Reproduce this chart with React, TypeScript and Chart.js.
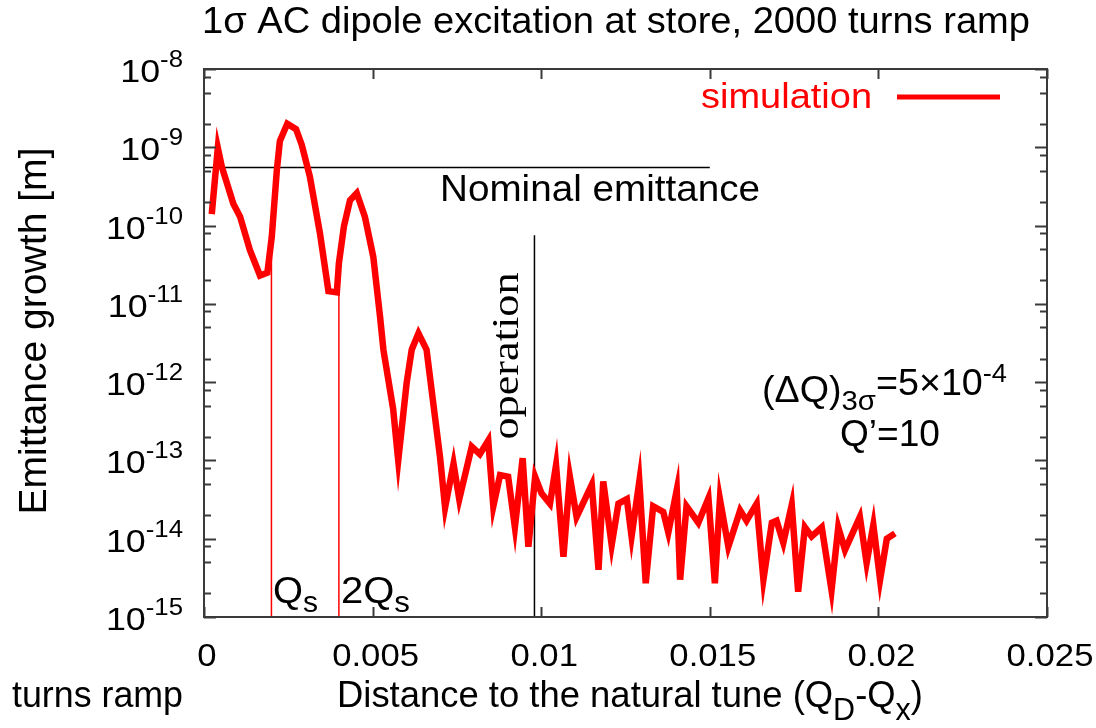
import React, { useEffect, useRef } from 'react';
import { Chart, registerables } from 'chart.js';

Chart.register(...registerables);

// ---- Data ----
const tuneDistance = [
  0.00023, 0.00041, 0.00053, 0.00087, 0.00107, 0.00136, 0.00166, 0.00188, 0.00201, 0.00216,
  0.00225, 0.00247, 0.00273, 0.0029, 0.00314, 0.00344, 0.00369, 0.00394, 0.004, 0.00415,
  0.00433, 0.00453, 0.00477, 0.00502, 0.00522, 0.00532, 0.00561, 0.00576, 0.00601, 0.00616,
  0.00636, 0.0066, 0.00685, 0.007, 0.00715, 0.0074, 0.00757, 0.00794, 0.00818, 0.00843,
  0.00858, 0.00878, 0.00902, 0.00922, 0.00945, 0.00962, 0.00982, 0.01001, 0.01026, 0.01044,
  0.01066, 0.01085, 0.01105, 0.0115, 0.0117, 0.01184, 0.01209, 0.01229, 0.01254, 0.01268,
  0.01291, 0.0131, 0.01332, 0.01362, 0.01377, 0.01402, 0.01412, 0.01431, 0.01466, 0.01496,
  0.01515, 0.0153, 0.01555, 0.0159, 0.01609, 0.01639, 0.01659, 0.01684, 0.01698, 0.01718,
  0.01743, 0.01762, 0.01782, 0.01802, 0.01832, 0.01861, 0.01881, 0.01901, 0.01945, 0.01965,
  0.01985, 0.02005, 0.02025, 0.02049,
];
const emittanceGrowth = [
  1.4e-10, 9.8e-10, 5.6e-10, 1.9e-10, 1.3e-10, 4.9e-11, 2.3e-11, 2.5e-11, 7.2e-11, 5.1e-10,
  1.2e-9, 2.0e-9, 1.7e-9, 1.07e-9, 4.2e-10, 7.9e-11, 1.45e-11, 1.4e-11, 3.3e-11, 9.8e-11,
  2.1e-10, 2.6e-10, 1.3e-10, 4.0e-11, 6.9e-12, 2.6e-12, 4.5e-13, 1.0e-13, 9.8e-13, 2.6e-12,
  4.2e-12, 2.6e-12, 3.6e-13, 1.1e-13, 2.5e-14, 9.1e-14, 3.2e-14, 1.5e-13, 1.2e-13, 1.8e-13,
  2.6e-14, 6.5e-14, 6.2e-14, 1.4e-14, 1.07e-13, 7.9e-15, 6.2e-14, 3.8e-14, 2.8e-14, 8.7e-14,
  5.9e-15, 6.2e-14, 1.9e-14, 4.9e-14, 4.0e-15, 5.4e-14, 8.3e-15, 2.8e-14, 3.2e-14, 1.07e-14,
  5.4e-14, 2.7e-15, 2.6e-14, 2.2e-14, 1.2e-14, 4.2e-14, 3.0e-15, 2.6e-14, 1.6e-14, 3.3e-14,
  2.7e-15, 3.2e-14, 7.9e-15, 2.3e-14, 1.7e-14, 2.8e-14, 3.0e-15, 1.6e-14, 1.7e-14, 8.9e-15,
  2.7e-14, 2.1e-15, 1.4e-14, 1.07e-14, 1.4e-14, 2.2e-15, 1.4e-14, 7.2e-15, 1.9e-14, 4.9e-15,
  1.5e-14, 3.0e-15, 1.0e-14, 1.17e-14,
];

const xTicks = [0, 0.005, 0.01, 0.015, 0.02, 0.025];
const xTickLabels = ['0', '0.005', '0.01', '0.015', '0.02', '0.025'];
const yTicks = [1e-8, 1e-9, 1e-10, 1e-11, 1e-12, 1e-13, 1e-14, 1e-15];
const yTickExponents = ['-8', '-9', '-10', '-11', '-12', '-13', '-14', '-15'];
const yMinorFactors = [2, 5, 8];

const xRange = [0, 0.025];
const yRange = [1e-15, 1e-8];

const nominalLineX = [0, 0.015];
const nominalLineY = [5.5e-10, 5.5e-10];
const operationLineX = [0.0098, 0.0098];
const operationLineY = [1e-15, 7.5e-11];
const qsLineX = [0.002, 0.002];
const qsLineY = [1e-15, 4e-11];
const twoQsLineX = [0.004, 0.004];
const twoQsLineY = [1e-15, 1.5e-11];

const SANS = '"Liberation Sans", Arial, Helvetica, sans-serif';
const SERIF = '"Liberation Serif", "Times New Roman", serif';

type Seg = { t: string; size: number; dy?: number; family?: string };
type RichOpts = {
  align?: 'left' | 'center' | 'right';
  width?: number;
  sx?: number;
  rotate?: number;
  color?: string;
  family?: string;
};

function drawRich(ctx: CanvasRenderingContext2D, segs: Seg[], x: number, y: number, o: RichOpts) {
  const fam = o.family || SANS;
  let W = 0;
  const widths = segs.map((s) => {
    ctx.font = `${s.size}px ${s.family || fam}`;
    const w = ctx.measureText(s.t).width;
    W += w;
    return w;
  });
  const sx = o.width ? o.width / W : o.sx || 1;
  ctx.save();
  ctx.translate(x, y);
  if (o.rotate) ctx.rotate(o.rotate);
  ctx.scale(sx, 1);
  let cx = o.align === 'center' ? -W / 2 : o.align === 'right' ? -W : 0;
  ctx.fillStyle = o.color || '#000';
  ctx.textBaseline = 'alphabetic';
  ctx.textAlign = 'left';
  segs.forEach((s, i) => {
    ctx.font = `${s.size}px ${s.family || fam}`;
    ctx.fillText(s.t, cx, s.dy || 0);
    cx += widths[i];
  });
  ctx.restore();
}

const decorPlugin = {
  id: 'gnuplotDecor',
  afterDraw(chart: any) {
    const ctx: CanvasRenderingContext2D = chart.ctx;
    const xs = chart.scales.x;
    const ys = chart.scales.y;
    const { left, right, top, bottom } = chart.chartArea;
    const frame = '#3a3a3a';

    ctx.save();
    ctx.strokeStyle = frame;
    ctx.lineWidth = 2;
    ctx.beginPath();
    xTicks.forEach((v) => {
      const px = Math.round(xs.getPixelForValue(v)) + 0.5;
      ctx.moveTo(px, bottom);
      ctx.lineTo(px, bottom - 10);
      ctx.moveTo(px, top);
      ctx.lineTo(px, top + 10);
    });
    yTicks.forEach((v) => {
      const py = Math.round(ys.getPixelForValue(v)) + 0.5;
      ctx.moveTo(left, py);
      ctx.lineTo(left + 12, py);
      ctx.moveTo(right, py);
      ctx.lineTo(right - 12, py);
    });
    yTicks.slice(1).forEach((d) => {
      yMinorFactors.forEach((f) => {
        const py = Math.round(ys.getPixelForValue(d * f)) + 0.5;
        ctx.moveTo(left, py);
        ctx.lineTo(left + 7, py);
        ctx.moveTo(right, py);
        ctx.lineTo(right - 7, py);
      });
    });
    ctx.stroke();
    ctx.strokeRect(left, top, right - left, bottom - top);
    ctx.restore();

    // x tick labels
    xTicks.forEach((v, i) => {
      const px = xs.getPixelForValue(v);
      drawRich(ctx, [{ t: xTickLabels[i], size: 31 }], px + 3, 666, { align: 'center', sx: 1.12 });
    });
    // y tick labels
    yTicks.forEach((v, i) => {
      const py = ys.getPixelForValue(v);
      drawRich(
        ctx,
        [
          { t: '10', size: 32 },
          { t: yTickExponents[i], size: 23, dy: -15 },
        ],
        183,
        py + 13,
        { align: 'right', sx: 1.12 }
      );
    });

    // title
    drawRich(ctx, [{ t: '1σ AC dipole excitation at store, 2000 turns ramp', size: 37 }], 202, 33, {
      align: 'left',
      width: 828,
    });
    // axis titles
    drawRich(
      ctx,
      [
        { t: 'Distance to the natural tune (Q', size: 37 },
        { t: 'D', size: 31, dy: 13 },
        { t: '-Q', size: 37 },
        { t: 'x', size: 31, dy: 13 },
        { t: ')', size: 37 },
      ],
      337,
      707,
      { align: 'left', width: 586 }
    );
    drawRich(ctx, [{ t: 'turns ramp', size: 37 }], 12, 707, { align: 'left', width: 171 });
    drawRich(ctx, [{ t: 'Emittance growth [m]', size: 38 }], 46, 331, {
      align: 'center',
      width: 367,
      rotate: -Math.PI / 2,
    });

    // annotations
    drawRich(ctx, [{ t: 'Nominal emittance', size: 36 }], 440, 201, { align: 'left', width: 320 });
    drawRich(ctx, [{ t: 'operation', size: 38, family: SERIF }], 518, 356, {
      align: 'center',
      width: 167,
      rotate: -Math.PI / 2,
    });
    drawRich(
      ctx,
      [
        { t: 'Q', size: 37 },
        { t: 's', size: 29, dy: 9 },
      ],
      273,
      603,
      { align: 'left', width: 45 }
    );
    drawRich(
      ctx,
      [
        { t: '2Q', size: 37 },
        { t: 's', size: 29, dy: 9 },
      ],
      341,
      603,
      { align: 'left', width: 69 }
    );
    drawRich(
      ctx,
      [
        { t: '(ΔQ)', size: 36 },
        { t: '3σ', size: 28, dy: 8 },
        { t: '=5×10', size: 36, dy: -7 },
        { t: '-4', size: 26, dy: -20 },
      ],
      762,
      402,
      { align: 'left', width: 245 }
    );
    drawRich(ctx, [{ t: 'Q’=10', size: 36 }], 840, 446, { align: 'left', width: 100 });

    // legend
    drawRich(ctx, [{ t: 'simulation', size: 35 }], 701, 108, { align: 'left', width: 171, color: '#ff0000' });
    ctx.save();
    ctx.strokeStyle = '#ff0000';
    ctx.lineWidth = 5;
    ctx.beginPath();
    ctx.moveTo(897, 97);
    ctx.lineTo(1000, 97);
    ctx.stroke();
    ctx.restore();
  },
};

function pts(xv: number[], yv: number[]) {
  return xv.map((x, i) => ({ x, y: yv[i] }));
}

export default function App() {
  const ref = useRef<HTMLCanvasElement>(null);
  useEffect(() => {
    document.body.style.margin = '0';
    const chart = new Chart(ref.current as HTMLCanvasElement, {
      type: 'scatter',
      data: {
        datasets: [
          {
            label: 'simulation',
            data: pts(tuneDistance, emittanceGrowth),
            showLine: true,
            borderColor: '#ff0000',
            borderWidth: 6.5,
            borderJoinStyle: 'miter',
            pointRadius: 0,
            tension: 0,
          },
          {
            label: 'Nominal emittance',
            data: pts(nominalLineX, nominalLineY),
            showLine: true,
            borderColor: '#000',
            borderWidth: 1.5,
            pointRadius: 0,
          },
          {
            label: 'operation',
            data: pts(operationLineX, operationLineY),
            showLine: true,
            borderColor: '#000',
            borderWidth: 1.5,
            pointRadius: 0,
          },
          {
            label: 'Qs',
            data: pts(qsLineX, qsLineY),
            showLine: true,
            borderColor: '#ff0000',
            borderWidth: 1.5,
            pointRadius: 0,
          },
          {
            label: '2Qs',
            data: pts(twoQsLineX, twoQsLineY),
            showLine: true,
            borderColor: '#ff0000',
            borderWidth: 1.5,
            pointRadius: 0,
          },
        ],
      } as any,
      options: {
        responsive: false,
        animation: false,
        devicePixelRatio: 1,
        layout: { padding: { left: 204, right: 49, top: 69, bottom: 111 } },
        scales: {
          x: { type: 'linear', min: xRange[0], max: xRange[1], display: false },
          y: { type: 'logarithmic', min: yRange[0], max: yRange[1], display: false },
        },
        plugins: {
          legend: { display: false },
          tooltip: { enabled: false },
          title: { display: false },
        },
        events: [],
      } as any,
      plugins: [decorPlugin],
    });
    return () => chart.destroy();
  }, []);
  return (
    <div style={{ width: 1096, height: 728, position: 'relative', background: '#fff' }}>
      <canvas ref={ref} width={1096} height={728} style={{ display: 'block', width: 1096, height: 728 }} />
    </div>
  );
}
